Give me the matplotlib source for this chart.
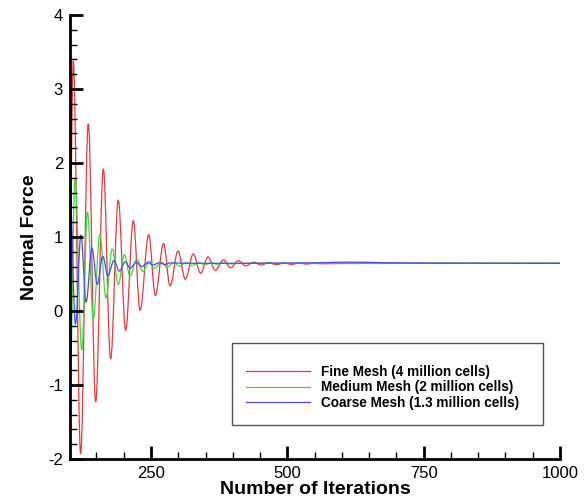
import numpy as np
import matplotlib
matplotlib.use("Agg")
import matplotlib.pyplot as plt
from matplotlib.patches import Rectangle, PathPatch
from matplotlib.path import Path
from matplotlib.lines import Line2D
from matplotlib.ticker import MultipleLocator

plt.rcParams['font.family'] = ['Liberation Sans', 'DejaVu Sans']
plt.rcParams['axes.unicode_minus'] = False

# extrema (iteration, normal force)
fine_it = [101.5, 107.5, 121, 135, 148.6, 162.6, 176, 190, 203.6, 217.6, 230,
           245.8, 258, 273, 285, 299.5, 313, 327.6, 341, 354.6, 368, 383, 396,
           410, 424, 439, 452, 466, 480, 494, 508, 521, 535, 549, 563, 600,
           700, 800, 900, 1000]
fine_nf = [1.0, 3.38, -1.93, 2.53, -1.23, 1.92, -0.65, 1.50, -0.26, 1.22, 0.01,
           1.03, 0.21, 0.91, 0.34, 0.81, 0.43, 0.77, 0.51, 0.73, 0.55, 0.69, 0.585,
           0.68, 0.61, 0.66, 0.62, 0.655, 0.625, 0.65, 0.63, 0.648, 0.635, 0.645,
           0.638, 0.642, 0.644, 0.645, 0.645, 0.645]

medium_it = [101.5, 110.7, 123, 133.6, 144.2, 156.2, 167.5, 178.9, 190, 201.4,
             211.5, 224, 235, 247, 256, 270, 279, 292, 302, 315, 325, 338, 348,
             361, 372, 384, 395, 420, 500, 600, 700, 800, 900, 1000]
medium_nf = [-1.0, 1.80, -0.53, 1.34, -0.11, 1.03, 0.18, 0.84, 0.36, 0.76,
             0.47, 0.70, 0.535, 0.67, 0.58, 0.66, 0.59, 0.655, 0.605, 0.655, 0.615,
             0.652, 0.625, 0.65, 0.632, 0.65, 0.637, 0.645, 0.645, 0.648, 0.647,
             0.645, 0.645, 0.645]

coarse_it = [101.5, 111.5, 121.6, 131, 141.8, 151.5, 161.5, 171, 182, 192, 203,
             212, 223, 233, 244, 254, 265, 275, 286, 320, 400, 500, 560, 600,
             640, 680, 750, 850, 1000]
coarse_nf = [1.6, -0.18, 1.03, 0.12, 0.85, 0.36, 0.74, 0.48, 0.68, 0.54, 0.665,
             0.58, 0.66, 0.60, 0.655, 0.62, 0.652, 0.63, 0.65, 0.645, 0.645, 0.648,
             0.652, 0.66, 0.66, 0.652, 0.648, 0.646, 0.645]

labels = ["Fine Mesh (4 million cells)", "Medium Mesh (2 million cells)",
          "Coarse Mesh (1.3 million cells)"]
colors = ["#e8383d", "#3cd93c", "#4b4bf5"]


def smooth_path(xs, ys, k=0.36):
    # cubic segments between extrema, flat tangent at each extremum
    verts = [(xs[0], ys[0])]
    codes = [Path.MOVETO]
    for i in range(1, len(xs)):
        dx = xs[i] - xs[i - 1]
        verts += [(xs[i - 1] + k * dx, ys[i - 1]), (xs[i] - k * dx, ys[i]), (xs[i], ys[i])]
        codes += [Path.CURVE4] * 3
    return Path(verts, codes)


fig = plt.figure(figsize=(5.87, 5.01), dpi=100)
ax = fig.add_axes([70/587, 1 - 459/501, 490/587, 444/501])

series = [(fine_it, fine_nf), (medium_it, medium_nf), (coarse_it, coarse_nf)]
handles = []
for (xs, ys), c, lab in zip(series, colors, labels):
    ax.add_patch(PathPatch(smooth_path(xs, ys), fill=False, edgecolor=c, lw=0.9))
    handles.append(Line2D([], [], color=c, lw=0.9, label=lab))

ax.set_xlim(101.5, 1000)
ax.set_ylim(-2, 4)
ax.xaxis.set_major_locator(MultipleLocator(250))
ax.xaxis.set_minor_locator(MultipleLocator(50))
ax.yaxis.set_major_locator(MultipleLocator(1))
ax.yaxis.set_minor_locator(MultipleLocator(0.2))

for s in ['top', 'right']:
    ax.spines[s].set_visible(False)
for s in ['left', 'bottom']:
    ax.spines[s].set_linewidth(2)
ax.tick_params(which='major', direction='in', length=9.5, width=2,
               labelsize=12, pad=5)
ax.tick_params(which='minor', direction='in', length=5, width=1)

ax.set_xlabel("Number of Iterations", fontsize=14, fontweight='bold', labelpad=0)
ax.set_ylabel("Normal Force", fontsize=14, fontweight='bold', labelpad=7)

# legend box
ax.add_patch(Rectangle((0.330, 0.0766), 0.635, 0.1854, transform=ax.transAxes,
                       fill=False, edgecolor='#555555', lw=1, zorder=4))
leg = ax.legend(handles=handles, loc='upper left',
                bbox_to_anchor=((246 - 70) / 490, (459 - 365) / 444),
                frameon=False, borderpad=0, borderaxespad=0, handlelength=4.7,
                handletextpad=0.8, labelspacing=0.1,
                prop={'weight': 'bold', 'size': 9.8})

fig.savefig("out.png", dpi=100)
